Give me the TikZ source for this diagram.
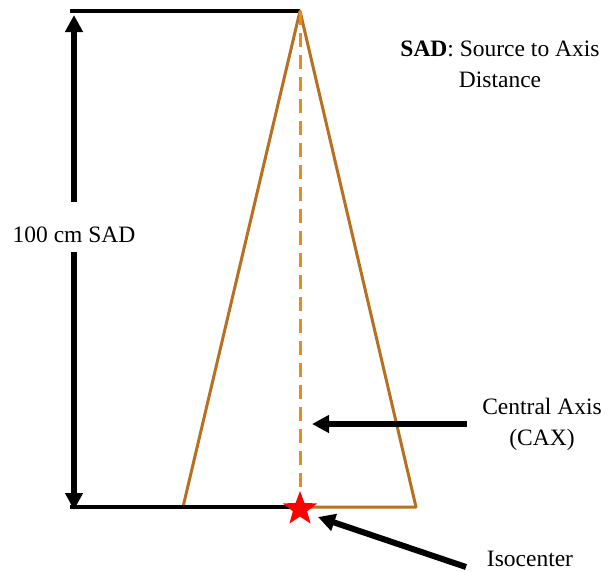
\documentclass[tikz,border=0pt]{standalone}
\usepackage{fontspec}
\setmainfont{Liberation Serif}
\usetikzlibrary{arrows.meta,shapes.geometric}
\definecolor{beam}{RGB}{184,112,32}
\definecolor{cax}{RGB}{232,138,32}
\tikzset{
  blackline/.style={line width=3.5pt,black},
  bigarrow/.style={line width=6pt,-{Triangle[length=17pt,width=17pt]}},
  beamline/.style={line width=3pt,beam,line join=round},
  lbl/.style={font=\fontsize{23.5}{31}\selectfont,inner sep=0pt,align=center}
}
\begin{document}
\begin{tikzpicture}[x=1pt,y=-1pt]
\useasboundingbox (0,0) rectangle (608,571);
% coordinates
\coordinate (src) at (300,11);
\coordinate (topL) at (70,11);
\coordinate (botL) at (70,507);
\coordinate (iso) at (300,507);
\coordinate (baseL) at (183,507);
\coordinate (baseR) at (416,507);
% reference lines
\draw[blackline] (topL) -- (src);
% beam
\draw[beamline] (baseL) -- (src) -- (baseR) -- cycle;
\draw[line width=3pt,cax,dash pattern=on 14pt off 8pt] (src) -- (iso);
\draw[blackline] (botL) -- (iso);
% SAD label and arrows
\node[lbl] (sadlbl) at (74,235) {100 cm SAD};
\coordinate (arrT) at (74,15);
\coordinate (arrB) at (74,510);
\draw[bigarrow] (74,202) -- (arrT);
\draw[bigarrow] (74,252) -- (arrB);
% star
\node[star,star points=5,star point ratio=2.4,fill=red,draw=none,minimum size=36pt,inner sep=0pt] (star) at (300,509) {};
% CAX
\node[lbl] (caxlbl) at (542,424) {Central Axis\\(CAX)};
\coordinate (caxS) at (467,424);
\coordinate (caxE) at (312,424);
\draw[bigarrow] (caxS) -- (caxE);
% Isocenter
\node[lbl] (isolbl) at (530,559) {Isocenter};
\coordinate (isoS) at (466,567);
\coordinate (isoE) at (318,517);
\draw[bigarrow] (isoS) -- (isoE);
% SAD definition
\node[lbl] (def) at (500,64) {\textbf{SAD}: Source to Axis\\Distance};
\end{tikzpicture}
\end{document}
